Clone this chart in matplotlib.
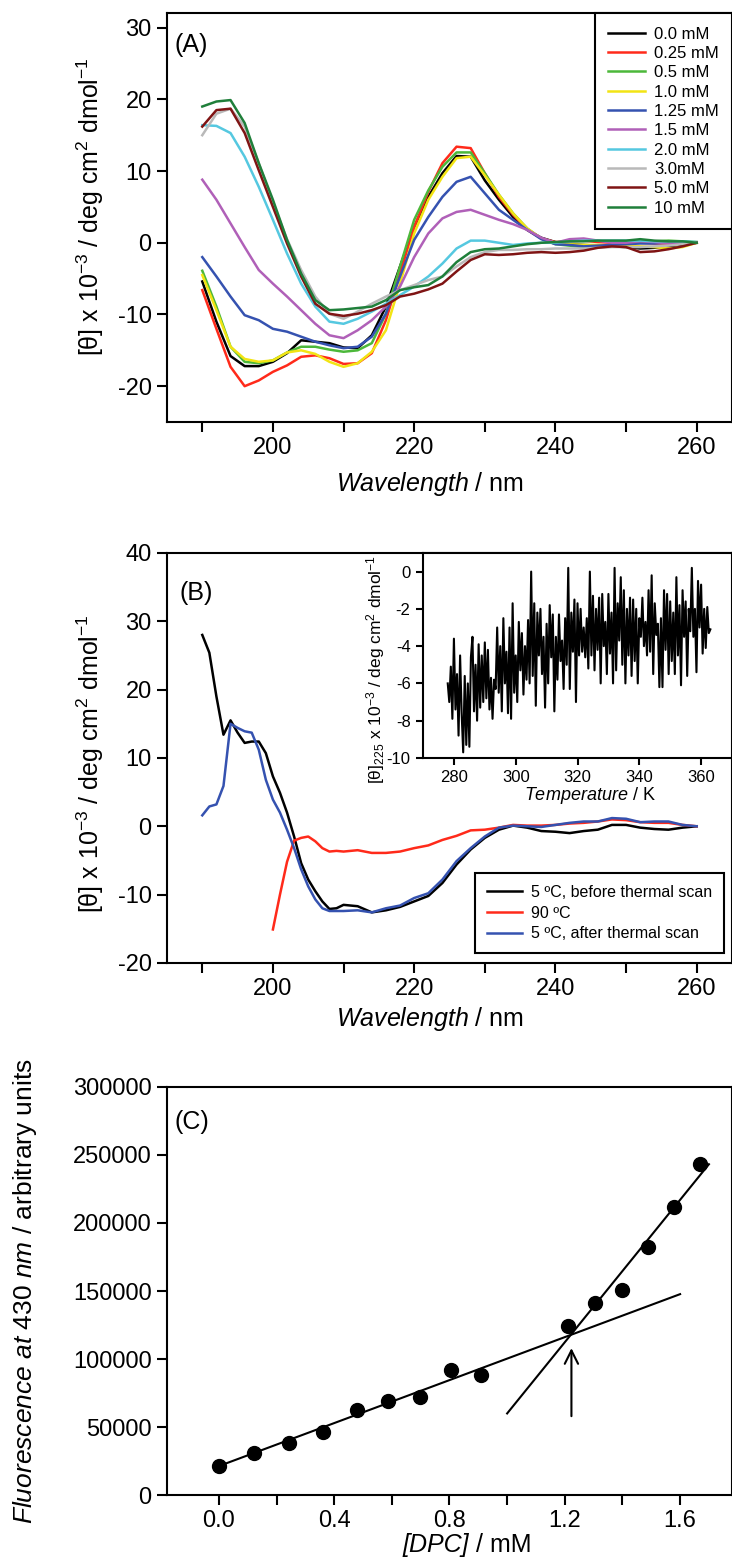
import numpy
import matplotlib
matplotlib.use('Agg')
from matplotlib import pyplot
from matplotlib.ticker import MultipleLocator, FormatStrFormatter

# fonts: Arial-like text, italic pieces through mathtext
pyplot.rcParams['font.family'] = 'Liberation Sans'
pyplot.rcParams['mathtext.fontset'] = 'custom'
pyplot.rcParams['mathtext.rm'] = 'Liberation Sans'
pyplot.rcParams['mathtext.it'] = 'Liberation Sans:italic'
pyplot.rcParams['axes.unicode_minus'] = False

# ---------------- panel A: CD spectra vs DPC concentration ----------------
wl_a = numpy.arange(190, 261, 2)
conc_labels = ['0.0 mM', '0.25 mM', '0.5 mM', '1.0 mM', '1.25 mM',
               '1.5 mM', '2.0 mM', '3.0mM', '5.0 mM', '10 mM']
cd_00 = [-5.4, -11.0, -15.8, -17.2, -17.2, -16.6, -15.4, -13.6, -13.8, -14.0,
         -14.6, -14.7, -12.9, -8.9, -3.3, 2.2, 6.4, 9.7, 12.1, 12.0,
         8.7, 6.0, 3.6, 1.8, 0.7, 0.1, -0.2, -0.3, -0.4, -0.5,
         -0.6, -0.8, -0.7, -0.5, -0.3, 0.0]
cd_025 = [-6.6, -12.0, -17.3, -20.0, -19.2, -18.0, -17.1, -15.9, -15.7, -16.1,
          -16.9, -16.8, -15.4, -10.8, -4.3, 2.2, 7.1, 11.1, 13.4, 13.2,
          9.7, 6.4, 3.9, 1.8, 0.6, 0.1, 0.2, 0.3, 0.1, 0.0,
          0.0, 0.0, -0.1, -0.1, -0.1, 0.0]
cd_05 = [-3.9, -8.9, -14.5, -16.6, -16.8, -16.4, -15.3, -14.5, -14.5, -14.9,
         -15.2, -15.0, -14.0, -9.9, -3.3, 3.2, 7.3, 10.6, 12.6, 12.6,
         9.7, 6.7, 4.1, 2.0, 0.6, -0.2, -0.4, -0.6, -0.5, -0.3,
         -0.1, 0.1, 0.2, 0.3, 0.2, 0.1]
cd_10 = [-4.5, -9.4, -14.5, -16.2, -16.6, -16.4, -15.3, -15.0, -15.5, -16.6,
         -17.3, -16.8, -15.2, -12.2, -5.7, 1.3, 6.0, 9.2, 11.8, 12.0,
         9.4, 6.7, 4.1, 2.0, 0.6, 0.0, -0.2, -0.3, -0.3, -0.4,
         -0.4, -0.5, -0.6, -0.8, -0.6, 0.0]
cd_125 = [-2.0, -4.7, -7.5, -10.1, -10.8, -12.0, -12.4, -13.1, -13.8, -14.3,
          -14.7, -14.5, -13.1, -9.9, -4.7, 0.4, 3.6, 6.4, 8.5, 9.2,
          6.9, 4.6, 3.2, 1.8, 0.5, -0.2, -0.3, -0.5, -0.4, -0.3,
          -0.2, -0.1, -0.1, 0.0, 0.0, 0.0]
cd_15 = [8.8, 6.0, 2.7, -0.6, -3.8, -5.7, -7.5, -9.4, -11.3, -12.9,
         -13.3, -12.2, -10.8, -8.9, -6.1, -2.0, 1.3, 3.4, 4.3, 4.6,
         3.9, 3.2, 2.6, 1.8, 0.7, 0.0, 0.5, 0.6, 0.3, 0.0,
         0.0, 0.2, 0.1, -0.1, 0.0, 0.0]
cd_20 = [16.4, 16.3, 15.3, 12.0, 7.8, 3.2, -1.5, -5.7, -8.9, -11.0,
         -11.3, -10.6, -9.6, -8.5, -7.3, -6.1, -4.7, -2.9, -0.8, 0.3,
         0.3, 0.0, -0.3, -0.1, 0.0, 0.0, 0.2, 0.3, 0.3, 0.3,
         0.3, 0.3, 0.2, 0.2, 0.2, 0.1]
cd_30 = [15.0, 18.0, 18.7, 16.2, 11.1, 5.6, 0.5, -3.8, -7.5, -9.9,
         -10.6, -9.6, -8.5, -7.5, -6.6, -5.9, -5.2, -4.7, -3.3, -2.0,
         -1.3, -1.0, -1.0, -0.9, -0.9, -0.8, -0.8, -0.8, -0.7, -0.6,
         -0.6, -0.6, -0.5, -0.4, -0.2, 0.0]
cd_50 = [16.2, 18.5, 18.7, 15.3, 10.1, 5.0, -0.1, -4.7, -8.5, -9.9,
         -10.2, -9.9, -9.4, -8.7, -7.5, -7.1, -6.5, -5.7, -4.0, -2.4,
         -1.6, -1.7, -1.6, -1.4, -1.3, -1.4, -1.3, -1.1, -0.7, -0.5,
         -0.6, -1.3, -1.2, -0.9, -0.5, 0.0]
cd_100 = [19.0, 19.7, 19.9, 16.7, 11.1, 6.0, 0.4, -4.3, -8.0, -9.4,
          -9.3, -9.1, -8.9, -8.0, -6.6, -6.2, -5.9, -4.7, -2.7, -1.3,
          -0.9, -0.8, -0.5, -0.2, 0.0, 0.1, 0.2, 0.2, 0.3, 0.3,
          0.3, 0.5, 0.3, 0.2, 0.2, 0.0]
conc_series = [cd_00, cd_025, cd_05, cd_10, cd_125, cd_15, cd_20, cd_30, cd_50, cd_100]
conc_colors = ['#000000', '#ff2a1a', '#4cb83a', '#f2e414', '#3552b0',
               '#b060b8', '#55c8e0', '#b9b9b9', '#7f1414', '#1f7f3a']

# ---------------- panel B: thermal scan ----------------
wl_b = list(range(190, 211)) + list(range(212, 261, 2))
cd_before = [28.0, 25.4, 19.0, 13.4, 15.5, 13.7, 12.2, 12.4, 12.4, 10.7,
             7.3, 4.9, 2.0, -1.5, -5.4, -7.8, -9.5, -11.0, -12.1, -12.0,
             -11.5,
             -11.7, -12.6, -12.3, -11.8, -11.0, -10.2, -8.3, -5.6, -3.4, -1.7,
             -0.5, 0.1, -0.2, -0.7, -0.8, -1.0, -0.7, -0.5, 0.2, 0.2,
             -0.2, -0.4, -0.5, -0.2, 0.0]
cd_after = [1.6, 2.9, 3.2, 5.9, 15.0, 14.4, 13.9, 13.7, 11.2, 6.8,
            3.9, 2.0, -0.5, -3.2, -6.3, -8.8, -10.7, -12.0, -12.4, -12.4,
            -12.4,
            -12.3, -12.6, -12.0, -11.6, -10.5, -9.8, -7.8, -5.1, -3.2, -1.5,
            -0.2, 0.1, 0.0, -0.1, 0.2, 0.5, 0.7, 0.7, 1.2, 1.1,
            0.6, 0.7, 0.7, 0.2, 0.0]
wl_hot = list(range(200, 211)) + list(range(212, 261, 2))
cd_hot = [-15.1, -10.0, -5.2, -2.1, -1.7, -1.5, -2.2, -3.2, -3.7, -3.6,
          -3.7,
          -3.5, -3.9, -3.9, -3.7, -3.2, -2.8, -2.0, -1.4, -0.6, -0.5,
          -0.2, 0.2, 0.1, 0.1, 0.2, 0.4, 0.5, 0.7, 1.0, 0.9,
          0.6, 0.5, 0.5, 0.2, 0.0]
thermal_labels = ['5 \u00baC, before thermal scan', '90 \u00baC', '5 \u00baC, after thermal scan']

# inset: ellipticity at 225 nm during the thermal ramp
temp_k = numpy.arange(278.0, 363.01, 0.5)
theta_225 = [-6.0, -7.0, -5.1, -7.9, -3.6, -7.4, -5.5, -8.8, -4.5, -7.6,
             -9.7, -5.6, -9.3, -6.0, -9.4, -4.6, -3.5, -7.5, -5.0, -8.0,
             -3.9, -7.3, -4.5, -7.0, -3.8, -6.8, -4.2, -7.4, -5.7, -7.9,
             -5.8, -6.3, -3.0, -6.5, -4.0, -7.5, -2.5, -6.0, -4.3, -7.6,
             -3.0, -7.9, -1.7, -6.5, -4.5, -7.0, -2.7, -5.3, -3.3, -6.6,
             -4.0, -5.8, -2.6, -6.0, 0.0, -5.6, -1.7, -7.2, -2.2, -4.5,
             -2.0, -5.5, -3.5, -7.3, -2.8, -6.0, -1.8, -4.6, -2.3, -7.5,
             -3.5, -5.8, -2.3, -4.8, -3.7, -6.3, -2.5, -5.0, 0.2, -6.3,
             -2.2, -4.3, -1.5, -7.0, -1.7, -4.5, -2.0, -4.3, -3.0, -4.6,
             -2.5, -5.2, 0.0, -4.5, -1.3, -5.3, -2.0, -4.2, -1.4, -6.0,
             -1.2, -4.0, -2.7, -5.5, -1.2, -4.4, -2.2, -6.0, 0.2, -5.3,
             -1.7, -3.7, -0.3, -5.0, -1.0, -6.0, -2.0, -4.5, -1.4, -5.6,
             -1.5, -4.8, -2.0, -6.0, -2.5, -3.5, -1.4, -4.0, -2.7, -4.5,
             -1.0, -4.3, -0.2, -5.5, -1.7, -3.4, -2.8, -6.2, -2.5, -6.2,
             -1.0, -4.2, -1.2, -5.5, -1.6, -4.8, -2.2, -5.5, -0.3, -4.5,
             -1.8, -6.1, -1.0, -3.5, -1.6, -5.6, -2.0, -3.2, 0.2, -3.5,
             -2.0, -5.4, -0.5, -3.0, -0.7, -4.4, -2.0, -4.1, -1.9, -3.3,
             -3.1]

# ---------------- panel C: fluorescence vs DPC ----------------
dpc_mm = [0.0, 0.123, 0.245, 0.361, 0.478, 0.588, 0.698, 0.806, 0.908,
          1.211, 1.305, 1.398, 1.490, 1.579, 1.668]
fluor = [21300, 30600, 38000, 46500, 62400, 69000, 71800, 91800, 88200,
         124200, 141500, 150600, 182400, 211800, 243200]
fit_low_x = [0.0, 1.6]
fit_low_y = [21300, 147700]
fit_high_x = [1.0, 1.7]
fit_high_y = [60000, 243200]
cmc_x = 1.223
cmc_arrow_y = [58000, 108000]

# ---------------- figure ----------------
fig = pyplot.figure(figsize=(7.32, 15.66), dpi=100)
ax_a = fig.add_axes([0.2281, 0.7305, 0.7719, 0.2610])
ax_b = fig.add_axes([0.2281, 0.3851, 0.7719, 0.2618])
ax_in = fig.add_axes([0.5779, 0.5160, 0.4221, 0.1309])
ax_c = fig.add_axes([0.2281, 0.0453, 0.7719, 0.2606])

ylab_cd = '[\u03b8] x 10$^{-3}$ / deg cm$^{2}$ dmol$^{-1}$'


def style_axes(ax, size):
    # thick frame and outward ticks
    for sp in ax.spines.values():
        sp.set_linewidth(1.5)
    ax.tick_params(which='both', direction='out', length=7, width=1.5,
                   labelsize=size, pad=4)


def boxed_legend(ax, **kw):
    # square black frame like the original
    leg = ax.legend(borderaxespad=0, fancybox=False, framealpha=1,
                    handletextpad=0.55, **kw)
    leg.get_frame().set_edgecolor('black')
    leg.get_frame().set_linewidth(1.5)


# panel A
for vals, lab, col in zip(conc_series, conc_labels, conc_colors):
    ax_a.plot(wl_a, vals, color=col, lw=1.8, label=lab)
ax_a.set_xlim(185, 265)
ax_a.set_ylim(-25, 32)
ax_a.xaxis.set_major_locator(MultipleLocator(20))
ax_a.xaxis.set_minor_locator(MultipleLocator(10))
ax_a.yaxis.set_major_locator(MultipleLocator(10))
style_axes(ax_a, 17)
ax_a.set_xlabel('$\\mathit{Wavelength}$ / nm', fontsize=18)
ax_a.xaxis.set_label_coords(0.465, -0.117)
ax_a.set_ylabel(ylab_cd, fontsize=18)
ax_a.yaxis.set_label_coords(-0.108, 0.528)
ax_a.text(0.014, 0.922, '(A)', transform=ax_a.transAxes, fontsize=18,
          va='center', ha='left')
boxed_legend(ax_a, loc='upper right', bbox_to_anchor=(1.0, 1.0),
             fontsize=12, handlelength=2.2, labelspacing=0.26,
             borderpad=0.8)

# panel B
ax_b.plot(wl_b, cd_before, color='black', lw=1.8, label=thermal_labels[0])
ax_b.plot(wl_hot, cd_hot, color='#ff2a1a', lw=1.8, label=thermal_labels[1])
ax_b.plot(wl_b, cd_after, color='#3552b0', lw=1.8, label=thermal_labels[2])
ax_b.set_xlim(185, 265)
ax_b.set_ylim(-20, 40)
ax_b.xaxis.set_major_locator(MultipleLocator(20))
ax_b.xaxis.set_minor_locator(MultipleLocator(10))
ax_b.yaxis.set_major_locator(MultipleLocator(10))
style_axes(ax_b, 17)
ax_b.set_xlabel('$\\mathit{Wavelength}$ / nm', fontsize=18)
ax_b.xaxis.set_label_coords(0.465, -0.102)
ax_b.set_ylabel(ylab_cd, fontsize=18)
ax_b.yaxis.set_label_coords(-0.108, 0.487)
ax_b.text(0.023, 0.902, '(B)', transform=ax_b.transAxes, fontsize=18,
          va='center', ha='left')
boxed_legend(ax_b, loc='lower right', bbox_to_anchor=(0.986, 0.024),
             fontsize=11.5, handlelength=2.2, labelspacing=0.35, borderpad=0.75)

# inset of panel B
ax_in.plot(temp_k, theta_225, color='black', lw=1.5)
ax_in.set_xlim(270, 370)
ax_in.set_ylim(-10, 1)
ax_in.xaxis.set_major_locator(MultipleLocator(20))
ax_in.set_yticks([0, -2, -4, -6, -8, -10])
style_axes(ax_in, 12)
ax_in.tick_params(length=5)
ax_in.set_xlabel('$\\mathit{Temperature}$ / K', fontsize=13)
ax_in.xaxis.set_label_coords(0.54, -0.13)
ax_in.set_ylabel('[\u03b8]$_{225}$ x 10$^{-3}$ / deg cm$^{2}$ dmol$^{-1}$', fontsize=12.5)
ax_in.yaxis.set_label_coords(-0.117, 0.43)

# panel C
ax_c.plot(dpc_mm, fluor, 'o', color='black', markersize=10)
ax_c.plot(fit_low_x, fit_low_y, color='black', lw=1.5)
ax_c.plot(fit_high_x, fit_high_y, color='black', lw=1.5)
ax_c.annotate('', xy=(cmc_x, cmc_arrow_y[1]), xytext=(cmc_x, cmc_arrow_y[0]),
              arrowprops=dict(arrowstyle='->', lw=1.5, color='black',
                              mutation_scale=24, shrinkA=0, shrinkB=0))
ax_c.set_xlim(-0.18, 1.78)
ax_c.set_ylim(0, 300000)
ax_c.xaxis.set_major_locator(MultipleLocator(0.4))
ax_c.xaxis.set_minor_locator(MultipleLocator(0.2))
ax_c.xaxis.set_major_formatter(FormatStrFormatter('%.1f'))
ax_c.yaxis.set_major_locator(MultipleLocator(50000))
ax_c.yaxis.set_major_formatter(FormatStrFormatter('%d'))
style_axes(ax_c, 17)
# x label: italic "[DPC]" then upright unit
ax_c.text(0.535, -0.093, '[DPC]', transform=ax_c.transAxes, fontsize=18,
          style='italic', ha='right', va='top')
ax_c.text(0.535, -0.093, ' / mM', transform=ax_c.transAxes, fontsize=18,
          ha='left', va='top')
ax_c.set_ylabel('$\\mathit{Fluorescence\\ at\\ 430\\ nm}$ / arbitrary units', fontsize=19)
ax_c.yaxis.set_label_coords(-0.226, 0.5)
ax_c.text(0.014, 0.914, '(C)', transform=ax_c.transAxes, fontsize=18,
          va='center', ha='left')

fig.savefig('out.png', dpi=100)
